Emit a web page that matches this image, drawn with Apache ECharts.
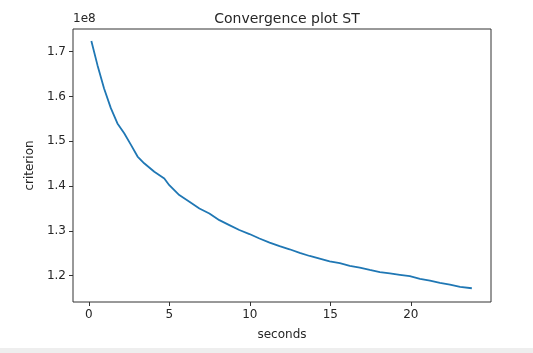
<!DOCTYPE html>
<html>
<head>
<meta charset="utf-8">
<script src="https://cdn.jsdelivr.net/npm/echarts@6/dist/echarts.min.js"></script>
<style>
  html, body { margin: 0; padding: 0; background: #fff; }
  #main { width: 533px; height: 353px; }
  #strip { position: absolute; left: 0; top: 348px; width: 533px; height: 5px; background: #eeeeee; }
</style>
</head>
<body>
<div id="main"></div>
<div id="strip"></div>
<script>
// elapsed time (s) and criterion value (units of 1e8)
const seconds = [
    0.16, 0.54, 0.95, 1.37, 1.78, 2.20, 2.62, 3.03, 3.44, 4.07, 4.69, 5.00,
    5.62, 6.25, 6.87, 7.49, 8.11, 8.73, 9.35, 9.98, 10.60, 11.23, 11.85, 12.47,
    13.10, 13.72, 14.34, 14.96, 15.59, 16.21, 16.83, 17.45, 18.08, 18.70, 19.32,
    19.94, 20.57, 21.19, 21.81, 22.43, 23.06, 23.79
];
const criterion = [
    1.724, 1.670, 1.618, 1.574, 1.540, 1.518, 1.492, 1.466, 1.451, 1.432, 1.417, 1.402,
    1.380, 1.365, 1.350, 1.339, 1.324, 1.313, 1.302, 1.293, 1.283, 1.274, 1.266, 1.259,
    1.251, 1.244, 1.238, 1.232, 1.228, 1.222, 1.218, 1.213, 1.208, 1.205, 1.202,
    1.199, 1.193, 1.189, 1.184, 1.180, 1.175, 1.172
];
const xTicks = [0, 5, 10, 15, 20];
const yTicks = [1.2, 1.3, 1.4, 1.5, 1.6, 1.7];

const myChart = echarts.init(document.getElementById('main'));
const font = 'DejaVu Sans';
const ink = '#262626';

const option = {
    animation: false,
    backgroundColor: '#fff',
    title: {
        text: 'Convergence plot ST',
        left: 282,
        top: 7,
        textAlign: 'center',
        textStyle: {fontFamily: font, fontSize: 14, fontWeight: 'normal', color: ink}
    },
    grid: {
        left: 73, right: 42, top: 29, bottom: 51,
        show: true, borderColor: '#333', borderWidth: 1, backgroundColor: '#fff'
    },
    xAxis: {
        type: 'value',
        min: -0.98,
        max: 24.98,
        name: 'seconds',
        nameLocation: 'middle',
        nameGap: 27,
        nameTextStyle: {fontFamily: font, fontSize: 12, color: ink},
        axisLine: {show: false, onZero: false},
        splitLine: {show: false},
        axisTick: {show: true, length: 4, lineStyle: {color: '#333'}, customValues: xTicks},
        axisLabel: {fontFamily: font, fontSize: 12, color: ink, margin: 7, customValues: xTicks}
    },
    yAxis: {
        type: 'value',
        min: 1.1413,
        max: 1.7507,
        name: 'criterion',
        nameLocation: 'middle',
        nameGap: 34,
        nameTextStyle: {fontFamily: font, fontSize: 12, color: ink},
        axisLine: {show: false, onZero: false},
        splitLine: {show: false},
        axisTick: {show: true, length: 4, lineStyle: {color: '#333'}, customValues: yTicks},
        axisLabel: {
            fontFamily: font, fontSize: 12, color: ink, margin: 7, customValues: yTicks,
            formatter: function (v) { return v.toFixed(1); }
        }
    },
    graphic: [{
        type: 'text',
        left: 73,
        top: 13,
        style: {text: '1e8', fontFamily: font, fontSize: 12, fill: ink}
    }],
    series: [{
        type: 'line',
        data: seconds.map(function (s, i) { return [s, criterion[i]]; }),
        showSymbol: false,
        smooth: false,
        lineStyle: {color: '#1f77b4', width: 1.8},
        itemStyle: {color: '#1f77b4'}
    }]
};

myChart.setOption(option);
</script>
</body>
</html>
